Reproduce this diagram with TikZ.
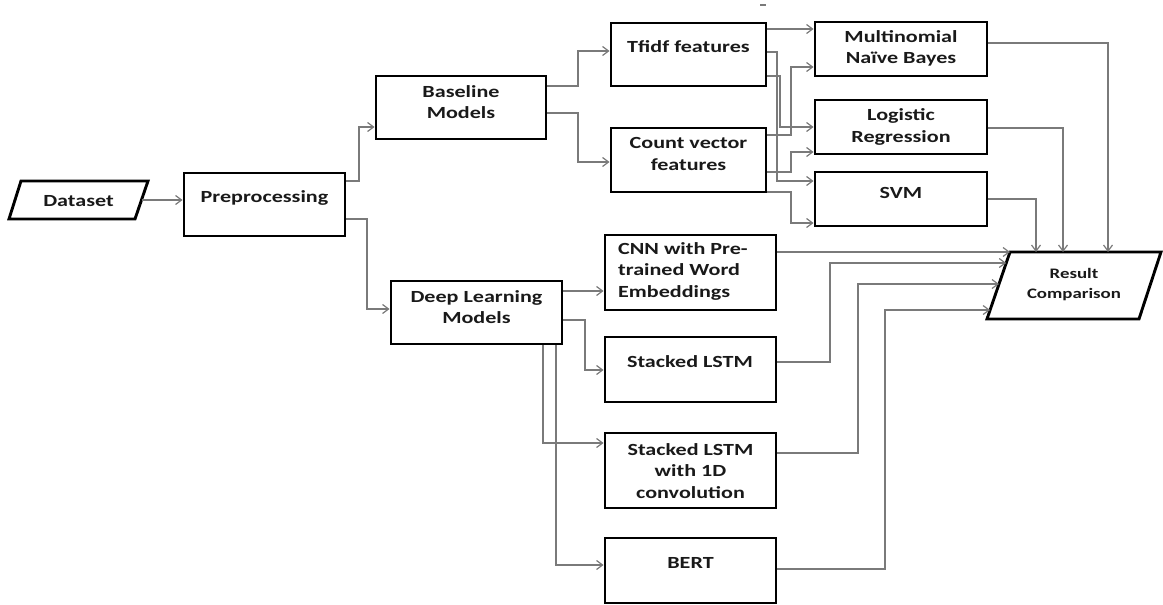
\documentclass[tikz,border=0pt]{standalone}
\usepackage{fontspec}
\setmainfont{Carlito}[FakeStretch=1.3]
\usetikzlibrary{arrows.meta,calc}
\begin{document}
\begin{tikzpicture}[x=1pt,y=-1pt,
  box/.style={draw=black, line width=2.9pt, shape=rectangle, inner sep=0pt},
  pshape/.style={draw=black, line width=2.9pt, line join=miter},
  lbl/.style={font=\bfseries\fontsize{17}{21.5}\selectfont, text=black!90, align=center, inner sep=0pt},
  smalllbl/.style={font=\bfseries\fontsize{14.5}{20}\selectfont, text=black!90, align=center, inner sep=0pt},
  conn/.style={draw=black!52, line width=1.3pt, -{Straight Barb[length=6pt,width=9pt,line width=1.2pt]}},
  plain/.style={draw=black!52, line width=1.3pt}
]
\useasboundingbox (0,0) rectangle (1163,605);

% Dataset parallelogram
\coordinate (dTL) at (21,181);
\coordinate (dTR) at (148,181);
\coordinate (dBR) at (135,219);
\coordinate (dBL) at (9,219);
\draw[pshape] (dTL) -- (dTR) -- (dBR) -- (dBL) -- cycle;
\node[lbl] (data) at (78.5,201) {Dataset};

% Result parallelogram
\coordinate (rTL) at (1010,252);
\coordinate (rTR) at (1161,252);
\coordinate (rBR) at (1139,319);
\coordinate (rBL) at (987,319);
\draw[pshape] (rTL) -- (rTR) -- (rBR) -- (rBL) -- cycle;
\node[smalllbl] (res) at (1074,285) {Result\\Comparison};
\coordinate (r1) at ($(rTL)!0.164!(rBL)$);
\coordinate (r2) at ($(rTL)!0.478!(rBL)$);
\coordinate (r3) at ($(rTL)!0.866!(rBL)$);

% Boxes
\node[box, minimum width=161pt, minimum height=63pt] (pre) at (264.5,204.5) {};
\node[box, minimum width=170pt, minimum height=63pt] (base) at (461,107.5) {};
\node[box, minimum width=155pt, minimum height=63pt] (tfidf) at (688.5,54.5) {};
\node[box, minimum width=155pt, minimum height=64pt] (cnt) at (688.5,160) {};
\node[box, minimum width=172pt, minimum height=54pt] (mnb) at (901,49) {};
\node[box, minimum width=172pt, minimum height=54pt] (lr) at (901,127) {};
\node[box, minimum width=172pt, minimum height=54pt] (svm) at (901,199) {};
\node[box, minimum width=171pt, minimum height=63pt] (dl) at (476.5,312.5) {};
\node[box, minimum width=171pt, minimum height=75pt] (cnn) at (690.5,272.5) {};
\node[box, minimum width=171pt, minimum height=65pt] (lstm) at (690.5,369.5) {};
\node[box, minimum width=171pt, minimum height=75pt] (cv) at (690.5,470.5) {};
\node[box, minimum width=171pt, minimum height=65pt] (bert) at (690.5,570.5) {};

% Labels
\node[lbl] (preT) at (264.5,198) {Preprocessing};
\node[lbl] (baseT) at (461,102) {Baseline\\Models};
\node[lbl] (tfidfT) at (688.5,47) {Tfidf features};
\node[lbl] (cntT) at (688.5,154) {Count vector\\features};
\node[lbl] (mnbT) at (901,48.5) {Multinomial\\Naïve Bayes};
\node[lbl] (lrT) at (901,127) {Logistic\\Regression};
\node[lbl] (svmT) at (901,193) {SVM};
\node[lbl] (dlT) at (476.5,307) {Deep Learning\\Models};
\node[lbl, align=left, anchor=west] (cnnT) at (618,271) {CNN with Pre-\\trained Word\\Embeddings};
\node[lbl] (lstmT) at (690,362) {Stacked LSTM};
\node[lbl] (cvT) at (690.5,471) {Stacked LSTM\\with 1D\\convolution};
\node[lbl] (bertT) at (690.5,563) {BERT};

% stray mark at top
\draw[plain] (760,5) -- (766,5);

% Connectors
\draw[conn] ($(dTR)!0.5!(dBR)$) -- (pre.west |- 0,200);
\draw[conn] (pre.east |- 0,181) -- (359,181) |- (base.west |- 0,127);
\draw[conn] (pre.east |- 0,219) -- (367,219) |- (dl.west |- 0,309);
\draw[conn] (base.east |- 0,86) -- (578,86) |- (tfidf.west |- 0,51);
\draw[conn] (base.east |- 0,113) -- (578,113) |- (cnt.west |- 0,162);

\draw[conn] (tfidf.east |- 0,29) -- (mnb.west |- 0,29);
\draw[conn] (tfidf.east |- 0,52) -- (777,52) |- (svm.west |- 0,181);
\draw[conn] (tfidf.east |- 0,76) -- (780,76) |- (lr.west |- 0,127);
\draw[conn] (cnt.east |- 0,135) -- (791,135) |- (mnb.west |- 0,67);
\draw[conn] (cnt.east |- 0,172) -- (791,172) |- (lr.west |- 0,152);
\draw[conn] (cnt.east |- 0,192) -- (791,192) |- (svm.west |- 0,223);

\draw[conn] (mnb.east |- 0,43) -| (rTL -| 1108,0);
\draw[conn] (lr.east |- 0,128) -| (rTL -| 1063,0);
\draw[conn] (svm.east |- 0,199) -| (rTL -| 1036,0);

\draw[conn] (dl.east |- 0,291) -- (cnn.west |- 0,291);
\draw[conn] (dl.east |- 0,320) -- (585,320) |- (lstm.west |- 0,370);
\draw[conn] (dl.south -| 543,0) |- (cv.west |- 0,443);
\draw[conn] (dl.south -| 556,0) |- (bert.west |- 0,565);

\draw[conn] (cnn.east |- 0,252) -- (rTL);
\draw[conn] (lstm.east |- 0,362) -- (830,362) |- (r1);
\draw[conn] (cv.east |- 0,453) -- (858,453) |- (r2);
\draw[conn] (bert.east |- 0,569) -- (885,569) |- (r3);
\end{tikzpicture}
\end{document}
